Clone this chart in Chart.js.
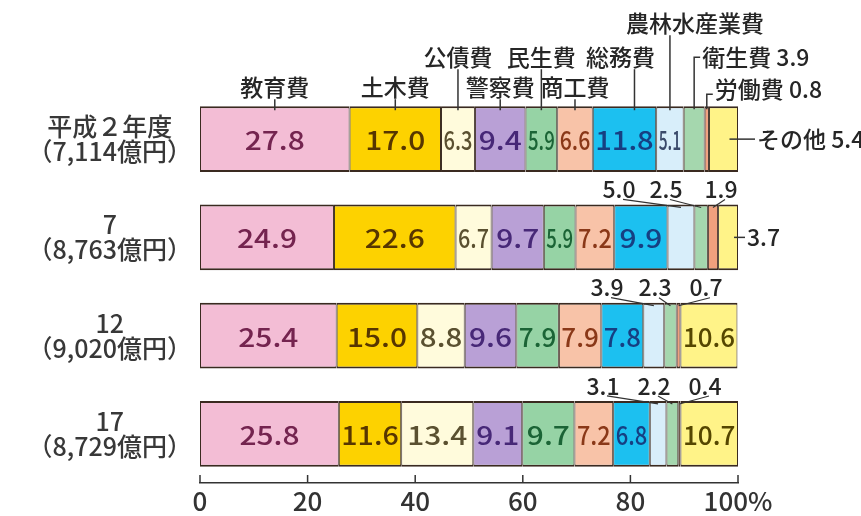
<!DOCTYPE html>
<html lang="ja">
<head>
<meta charset="utf-8">
<script src="https://cdn.jsdelivr.net/npm/chart.js@4.4.1/dist/chart.umd.min.js"></script>
<style>
html,body{margin:0;padding:0;background:#fff;}
#wrap{width:861px;height:516px;}
</style>
</head>
<body>
<div id="wrap"><canvas id="c" width="861" height="516"></canvas></div>
<script>
// ---- data ----
const expenseNames = ['教育費','土木費','公債費','警察費','民生費','商工費','総務費','農林水産業費','衛生費','労働費','その他'];
const years = ['平成２年度','7','12','17'];
const totals = ['7,114','8,763','9,020','8,729'];
const fy1990 = [27.8,17.0,6.3,9.4,5.9,6.6,11.8,5.1,3.9,0.8,5.4];
const fy1995 = [24.9,22.6,6.7,9.7,5.9,7.2,9.9,5.0,2.5,1.9,3.7];
const fy2000 = [25.4,15.0,8.8,9.6,7.9,7.9,7.8,3.9,2.3,0.7,10.6];
const fy2005 = [25.8,11.6,13.4,9.1,9.7,7.2,6.8,3.1,2.2,0.4,10.7];
const xTickLabels = ['0','20','40','60','80','100%'];

const rows = [fy1990, fy1995, fy2000, fy2005];

// ---- styles ----
const FONT = '"Noto Sans CJK JP", "Noto Sans", sans-serif';
const WEIGHT = '500';
const INK = '#262626';
const LINE = '#333333';
const fillColors = ['#f3bdd5','#fdd200','#fffbdc','#b9a0d6','#96d3a5','#f8c3a8','#1cc0f0','#d8eefa','#a5d7ae','#f0a07e','#fff388'];
const textColors = ['#74244f','#573600','#5a5030','#472877','#1b6436','#8a3818','#163f82','#3a4a6a','#2a5a3a','#7a3a1a','#554600'];
const BORDER = '#3a2a20';

// ---- annotation layout ----
const outsideSegs = [[8,9,10],[7,8,9,10],[7,8,9],[7,8,9]];
const topLayout = [
  {j:0, lvl:19}, {j:1, lvl:19}, {j:2, lvl:49}, {j:3, lvl:19},
  {j:4, lvl:49}, {j:5, lvl:19}, {j:6, lvl:49, lx:10, dx:-14}, {j:7, lvl:83, dx:25}
];
const hookLayout = [{j:8, lvl:49, hy:0}, {j:9, lvl:17, hy:5}];
const rightLayout = [{row:0, j:10, name:true, gap:19}, {row:1, j:10, name:false, gap:9}];
const aboveLayout = [
  {row:1, js:[7,8,9], xs:[-119,-72,-17]},
  {row:2, js:[7,8,9], xs:[-131,-83,-32]},
  {row:3, js:[7,8,9], xs:[-135,-84,-33]}
];
const INNER_STRETCH = 1.15;

function segBox(chart, row, j) {
  const el = chart.getDatasetMeta(j).data[row];
  const p = el.getProps(['x','y','base','height'], true);
  const left = Math.min(p.x, p.base), right = Math.max(p.x, p.base);
  return {left, right, cx:(left+right)/2, cy:p.y, top:p.y - p.height/2, bottom:p.y + p.height/2};
}
function line(ctx, pts) {
  ctx.beginPath();
  ctx.moveTo(pts[0][0], pts[0][1]);
  for (let i = 1; i < pts.length; i++) ctx.lineTo(pts[i][0], pts[i][1]);
  ctx.stroke();
}

const annotPlugin = {
  id: 'annot',
  afterDraw(chart) {
    const ctx = chart.ctx;
    const xs = chart.scales.x;
    ctx.save();
    // upward tick marks on x axis
    ctx.strokeStyle = LINE; ctx.lineWidth = 1.5;
    const yb = chart.chartArea.bottom;
    xs.ticks.forEach(t => {
      const px = xs.getPixelForValue(t.value);
      line(ctx, [[px, yb], [px, yb - 8]]);
    });

    // values inside segments
    rows.forEach((vals, row) => {
      vals.forEach((v, j) => {
        if (outsideSegs[row].includes(j)) return;
        const b = segBox(chart, row, j);
        const txt = v.toFixed(1);
        ctx.font = `${WEIGHT} 26px ${FONT}`;
        const w = ctx.measureText(txt).width;
        const maxW = (b.right - b.left) - 5;
        const sx = Math.min(INNER_STRETCH, maxW / w);
        ctx.save();
        ctx.translate(b.cx, b.cy + 1);
        ctx.scale(sx, 1);
        ctx.fillStyle = textColors[j];
        ctx.textAlign = 'center';
        ctx.textBaseline = 'middle';
        ctx.fillText(txt, 0, 0);
        ctx.restore();
      });
    });

    // category names above first bar
    ctx.font = `${WEIGHT} 23px ${FONT}`;
    ctx.fillStyle = INK; ctx.strokeStyle = LINE; ctx.lineWidth = 1.5;
    ctx.textBaseline = 'middle';
    topLayout.forEach(o => {
      const b = segBox(chart, 0, o.j);
      const lineX = b.cx + (o.lx || 0);
      const labelX = lineX + (o.dx || 0);
      const labelY = b.top - o.lvl;
      ctx.textAlign = 'center';
      ctx.fillText(expenseNames[o.j], labelX, labelY);
      line(ctx, [[lineX, labelY + 12], [lineX, b.top + 4]]);
    });
    hookLayout.forEach(o => {
      const b = segBox(chart, 0, o.j);
      const labelY = b.top - o.lvl;
      const hy = labelY + o.hy;
      line(ctx, [[b.cx, b.top + 3], [b.cx, hy], [b.cx + 6, hy]]);
      ctx.textAlign = 'left';
      ctx.fillText(expenseNames[o.j] + ' ' + rows[0][o.j].toFixed(1), b.cx + 8, labelY);
    });
    rightLayout.forEach(o => {
      const b = segBox(chart, o.row, o.j);
      line(ctx, [[b.cx + 6, b.cy], [b.right + o.gap - 2, b.cy]]);
      ctx.textAlign = 'left';
      const txt = (o.name ? expenseNames[o.j] + ' ' : '') + rows[o.row][o.j].toFixed(1);
      ctx.fillText(txt, b.right + o.gap, b.cy);
    });
    // small values above bars
    const x100 = xs.getPixelForValue(100);
    aboveLayout.forEach(o => {
      o.js.forEach((j, k) => {
        const b = segBox(chart, o.row, j);
        const lx = x100 + o.xs[k];
        const ly = b.top - 15;
        ctx.textAlign = 'center';
        ctx.fillText(rows[o.row][j].toFixed(1), lx, ly);
        ctx.lineWidth = 1.2;
        line(ctx, [[lx + 4, ly + 10], [b.cx, b.top + 3]]);
      });
    });
    ctx.restore();
  }
};

const yLabels = years.map((y, i) => [y, '（' + totals[i] + '億円）']);

const datasets = expenseNames.map((name, j) => ({
  label: name,
  data: rows.map(r => r[j]),
  backgroundColor: fillColors[j],
  borderColor: BORDER,
  borderWidth: {top: 2, bottom: 2, left: 1, right: 1},
  borderSkipped: false,
  barPercentage: 0.67,
  categoryPercentage: 1.0
}));

new Chart(document.getElementById('c'), {
  type: 'bar',
  data: { labels: yLabels, datasets },
  plugins: [annotPlugin],
  options: {
    indexAxis: 'y',
    responsive: false,
    animation: false,
    devicePixelRatio: 1,
    layout: { padding: { top: 90, right: 123, left: 0, bottom: 0 } },
    plugins: { legend: { display: false }, tooltip: { enabled: false } },
    scales: {
      x: {
        stacked: true, min: 0, max: 100,
        grid: { display: false, drawTicks: false },
        border: { display: true, color: LINE, width: 1.5 },
        ticks: {
          stepSize: 20, autoSkip: false, maxRotation: 0, padding: 3,
          color: '#333', font: { family: FONT, size: 26, weight: WEIGHT },
          callback: (v, i) => xTickLabels[i]
        },
        afterFit: s => { s.height = 33; }
      },
      y: {
        stacked: true,
        grid: { display: false, drawTicks: false },
        border: { display: false },
        ticks: {
          crossAlign: 'center', padding: 8,
          color: '#383838', font: { family: FONT, size: 25, lineHeight: 1.0, weight: WEIGHT }
        },
        afterFit: s => { s.width = 200; }
      }
    }
  }
});
</script>
</body>
</html>
